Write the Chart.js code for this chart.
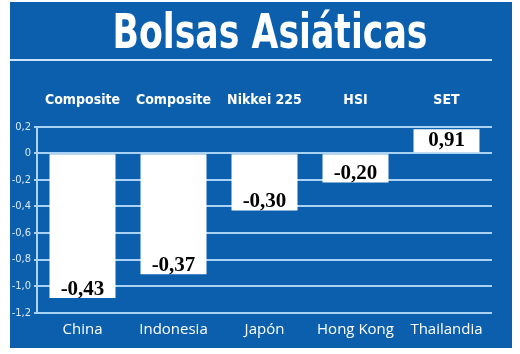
<!DOCTYPE html>
<html lang="es">
<head>
    <meta charset="UTF-8">
    <title>Bolsas Asiáticas</title>
    <script src="https://cdn.jsdelivr.net/npm/chart.js"></script>
    <style>
        html, body { margin: 0; padding: 0; background: #ffffff; }
        #wrap { width: 520px; height: 354px; }
    </style>
</head>
<body>
    <div id="wrap"><canvas id="bolsasChart" width="520" height="354"></canvas></div>

    <script>
        // Data
        const titleText = 'Bolsas Asiáticas';
        const countries = ['China', 'Indonesia', 'Japón', 'Hong Kong', 'Thailandia'];
        const indexNames = ['Composite', 'Composite', 'Nikkei 225', 'HSI', 'SET'];
        const barHeights = [-1.09, -0.91, -0.43, -0.22, 0.18];
        const valueLabels = ['-0,43', '-0,37', '-0,30', '-0,20', '0,91'];
        const yMin = -1.2, yMax = 0.2, yStep = 0.2;

        const BLUE = '#0b5fad';
        const GRID = '#a9d2f5';
        const CONDENSED = '"DejaVu Sans Condensed", "Liberation Sans Narrow", sans-serif';

        // blue panel, title and the line under it
        const panelPlugin = {
            id: 'panel',
            beforeDraw(chart) {
                const c = chart.ctx;
                c.save();
                c.fillStyle = '#ffffff';
                c.fillRect(0, 0, chart.width, chart.height);
                c.fillStyle = BLUE;
                c.fillRect(10, 2, 502, 346);
                c.strokeStyle = '#cfe4f8';
                c.lineWidth = 2;
                c.beginPath();
                c.moveTo(10, 60);
                c.lineTo(492, 60);
                c.stroke();
                c.fillStyle = '#ffffff';
                c.font = 'bold 48px ' + CONDENSED;
                c.textAlign = 'center';
                c.textBaseline = 'alphabetic';
                const w = c.measureText(titleText).width;
                c.translate(270, 48);
                c.scale(315 / w, 1);
                c.fillText(titleText, 0, 0);
                c.restore();
            }
        };

        // the numbers written inside the bars
        const valuePlugin = {
            id: 'values',
            afterDatasetsDraw(chart) {
                const c = chart.ctx;
                const meta = chart.getDatasetMeta(0);
                c.save();
                c.fillStyle = '#000000';
                c.font = 'bold 21px "Liberation Serif", serif';
                c.textAlign = 'center';
                c.textBaseline = 'middle';
                meta.data.forEach((bar, i) => {
                    const y = barHeights[i] < 0 ? bar.y - 9 : (bar.y + bar.base) / 2;
                    c.fillText(valueLabels[i], bar.x, y);
                });
                c.restore();
            }
        };

        const fmt = v => Math.abs(v) < 1e-9 ? '0' : v.toFixed(1).replace('.', ',');

        new Chart(document.getElementById('bolsasChart'), {
            type: 'bar',
            data: {
                labels: countries,
                datasets: [{
                    data: barHeights,
                    backgroundColor: '#ffffff',
                    borderWidth: 0,
                    barPercentage: 0.725,
                    categoryPercentage: 1.0
                }]
            },
            options: {
                responsive: false,
                animation: false,
                layout: { padding: { top: 70, left: 10, right: 28, bottom: 6 } },
                plugins: {
                    legend: { display: false },
                    tooltip: { enabled: false }
                },
                scales: {
                    x: {
                        position: 'bottom',
                        grid: { display: false, drawTicks: false },
                        border: { display: false },
                        ticks: {
                            color: '#ffffff',
                            padding: 8,
                            maxRotation: 0,
                            minRotation: 0,
                            autoSkip: false,
                            font: { family: '"Open Sans", sans-serif', size: 15 }
                        },
                        afterFit: s => { s.height = 35.3; }
                    },
                    x2: {
                        type: 'category',
                        labels: indexNames,
                        position: 'top',
                        offset: true,
                        grid: { display: false, drawTicks: false },
                        border: { display: false },
                        ticks: {
                            color: '#ffffff',
                            padding: 18,
                            maxRotation: 0,
                            minRotation: 0,
                            autoSkip: false,
                            font: { family: CONDENSED, size: 14, weight: 'bold' }
                        },
                        afterFit: s => { s.height = 56.7; }
                    },
                    y: {
                        min: yMin,
                        max: yMax,
                        grid: { color: GRID, lineWidth: 2, tickLength: 3 },
                        border: { display: true, color: GRID, width: 2 },
                        ticks: {
                            stepSize: yStep,
                            color: '#dbe9f7',
                            padding: 3,
                            font: { family: CONDENSED, size: 11 },
                            callback: v => fmt(v)
                        },
                        afterFit: s => { s.width = 27; }
                    }
                }
            },
            plugins: [panelPlugin, valuePlugin]
        });
    </script>
</body>
</html>
